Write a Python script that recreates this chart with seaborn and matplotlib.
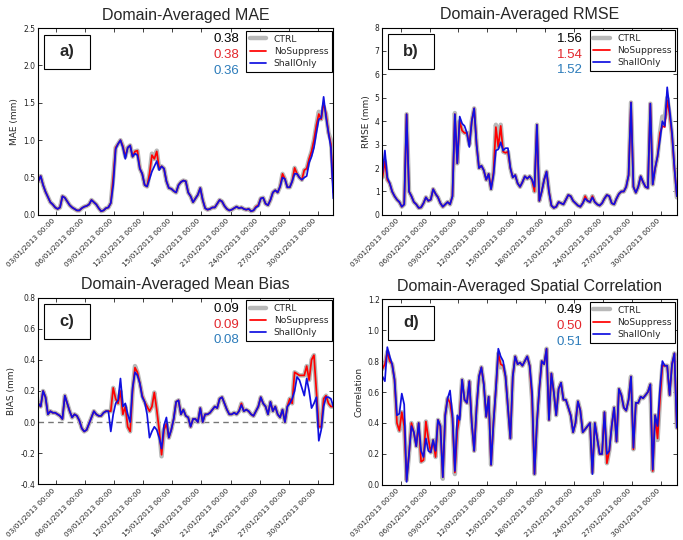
import pandas as pd
import seaborn as sns
import matplotlib.pyplot as plt
import matplotlib.dates as mdates
from matplotlib.patches import Rectangle

sns.set_style("ticks", {"xtick.direction": "in", "ytick.direction": "in"})
plt.rcParams['font.family'] = ['DejaVu Sans']

# 6-hourly times, 01/01/2013 03:00 -> 31/01/2013 15:00
times = pd.date_range('2013-01-01 03:00', periods=123, freq='6h')

mae_ctrl = [
    0.45, 0.52, 0.40, 0.31, 0.24, 0.17, 0.14, 0.10, 0.08, 0.10,
    0.25, 0.23, 0.18, 0.13, 0.10, 0.08, 0.06, 0.06, 0.09, 0.11,
    0.12, 0.14, 0.20, 0.17, 0.14, 0.09, 0.05, 0.06, 0.09, 0.10,
    0.16, 0.50, 0.90, 0.95, 1.00, 0.92, 0.78, 0.90, 0.93, 0.78,
    0.85, 0.86, 0.62, 0.55, 0.40, 0.38, 0.55, 0.82, 0.75, 0.86,
    0.62, 0.65, 0.62, 0.45, 0.36, 0.35, 0.32, 0.30, 0.40, 0.44,
    0.46, 0.45, 0.30, 0.25, 0.17, 0.22, 0.27, 0.36, 0.20, 0.09,
    0.07, 0.08, 0.10, 0.10, 0.15, 0.20, 0.18, 0.12, 0.08, 0.06,
    0.07, 0.09, 0.11, 0.09, 0.10, 0.08, 0.07, 0.08, 0.05, 0.06,
    0.11, 0.13, 0.22, 0.23, 0.15, 0.13, 0.20, 0.30, 0.33, 0.30,
    0.38, 0.55, 0.48, 0.37, 0.37, 0.45, 0.63, 0.55, 0.50, 0.47,
    0.60, 0.62, 0.75, 0.85, 1.00, 1.20, 1.38, 1.28, 1.45, 1.35,
    1.10, 1.00, 0.48]
mae_nosup = [
    0.45, 0.52, 0.40, 0.31, 0.24, 0.17, 0.14, 0.10, 0.08, 0.10,
    0.25, 0.23, 0.18, 0.13, 0.10, 0.08, 0.06, 0.06, 0.09, 0.11,
    0.12, 0.14, 0.20, 0.17, 0.14, 0.09, 0.05, 0.06, 0.09, 0.10,
    0.16, 0.50, 0.90, 0.95, 1.00, 0.92, 0.78, 0.90, 0.93, 0.78,
    0.85, 0.86, 0.62, 0.55, 0.40, 0.38, 0.55, 0.80, 0.75, 0.85,
    0.62, 0.65, 0.62, 0.45, 0.36, 0.35, 0.32, 0.30, 0.40, 0.44,
    0.46, 0.45, 0.30, 0.25, 0.17, 0.22, 0.27, 0.36, 0.20, 0.09,
    0.07, 0.08, 0.10, 0.10, 0.15, 0.20, 0.18, 0.12, 0.08, 0.06,
    0.07, 0.09, 0.11, 0.09, 0.10, 0.08, 0.07, 0.08, 0.05, 0.06,
    0.11, 0.13, 0.22, 0.23, 0.15, 0.13, 0.20, 0.30, 0.33, 0.30,
    0.38, 0.55, 0.48, 0.37, 0.37, 0.45, 0.63, 0.55, 0.50, 0.47,
    0.60, 0.62, 0.75, 0.85, 1.00, 1.20, 1.35, 1.28, 1.50, 1.35,
    1.10, 0.95, 0.30]
mae_shall = [
    0.45, 0.52, 0.40, 0.31, 0.24, 0.17, 0.14, 0.10, 0.08, 0.10,
    0.25, 0.23, 0.18, 0.13, 0.10, 0.08, 0.06, 0.06, 0.09, 0.11,
    0.12, 0.14, 0.20, 0.17, 0.14, 0.09, 0.05, 0.06, 0.09, 0.10,
    0.16, 0.40, 0.88, 0.95, 1.00, 0.90, 0.75, 0.90, 0.93, 0.78,
    0.82, 0.80, 0.62, 0.55, 0.40, 0.38, 0.48, 0.58, 0.65, 0.72,
    0.60, 0.65, 0.62, 0.45, 0.36, 0.35, 0.32, 0.30, 0.40, 0.44,
    0.46, 0.45, 0.30, 0.25, 0.17, 0.22, 0.27, 0.36, 0.20, 0.09,
    0.07, 0.08, 0.10, 0.10, 0.15, 0.20, 0.18, 0.12, 0.08, 0.06,
    0.07, 0.09, 0.11, 0.09, 0.10, 0.08, 0.07, 0.08, 0.05, 0.06,
    0.10, 0.12, 0.22, 0.23, 0.15, 0.13, 0.20, 0.30, 0.33, 0.30,
    0.38, 0.50, 0.48, 0.37, 0.37, 0.45, 0.55, 0.55, 0.50, 0.47,
    0.50, 0.52, 0.70, 0.78, 0.90, 1.10, 1.28, 1.30, 1.58, 1.30,
    1.10, 0.90, 0.22]

rmse_ctrl = [
    1.6, 2.3, 1.5, 1.35, 1.0, 0.8, 0.65, 0.55, 0.35, 0.45,
    4.3, 1.0, 0.8, 0.55, 0.45, 0.3, 0.32, 0.5, 0.75, 0.6,
    0.65, 1.1, 0.9, 0.75, 0.5, 0.35, 0.45, 0.55, 0.45, 0.8,
    4.35, 2.2, 4.0, 3.6, 3.5, 3.5, 3.0, 4.0, 4.55, 3.0,
    2.0, 2.1, 1.9, 1.5, 1.75, 1.1, 1.8, 3.85, 2.9, 3.85,
    2.7, 2.65, 2.7, 2.0, 1.6, 1.7, 1.35, 1.2, 1.4, 1.65,
    1.55, 1.65, 1.5, 1.0, 3.85, 0.6, 1.0, 1.5, 1.85, 1.0,
    0.4, 0.3, 0.35, 0.55, 0.5, 0.45, 0.65, 0.85, 0.8, 0.6,
    0.5, 0.4, 0.35, 0.5, 0.8, 0.6, 0.55, 0.8, 0.55, 0.45,
    0.4, 0.5, 0.7, 0.85, 0.8, 0.5, 0.45, 0.7, 0.9, 1.0,
    1.0, 1.2, 1.7, 4.8, 1.2, 0.95, 1.2, 1.65, 1.4, 1.2,
    1.15, 4.75, 1.3, 2.0, 2.5, 3.5, 4.2, 4.15, 5.0, 4.3,
    3.4, 2.0, 0.75]
rmse_nosup = [
    1.6, 2.3, 1.5, 1.35, 1.0, 0.8, 0.65, 0.55, 0.35, 0.45,
    4.3, 1.0, 0.8, 0.55, 0.45, 0.3, 0.32, 0.5, 0.75, 0.6,
    0.65, 1.1, 0.9, 0.75, 0.5, 0.35, 0.45, 0.55, 0.45, 0.8,
    4.3, 2.2, 4.0, 3.6, 3.5, 3.5, 3.0, 4.0, 4.55, 3.0,
    2.0, 2.1, 1.9, 1.5, 1.75, 1.1, 1.8, 3.75, 2.9, 3.8,
    2.7, 2.65, 2.7, 2.0, 1.6, 1.7, 1.35, 1.2, 1.4, 1.65,
    1.55, 1.65, 1.5, 1.0, 3.85, 0.6, 1.0, 1.5, 1.85, 1.0,
    0.4, 0.3, 0.35, 0.55, 0.5, 0.45, 0.65, 0.85, 0.8, 0.6,
    0.5, 0.4, 0.35, 0.5, 0.8, 0.6, 0.55, 0.8, 0.55, 0.45,
    0.4, 0.5, 0.7, 0.85, 0.8, 0.5, 0.45, 0.7, 0.9, 1.0,
    1.0, 1.2, 1.7, 4.8, 1.2, 0.95, 1.2, 1.65, 1.4, 1.2,
    1.15, 4.75, 1.3, 2.0, 2.5, 3.5, 3.8, 3.75, 4.9, 4.3,
    3.4, 2.0, 0.8]
rmse_shall = [
    1.8, 2.75, 1.6, 1.35, 1.0, 0.8, 0.65, 0.55, 0.35, 0.45,
    4.3, 1.0, 0.8, 0.55, 0.45, 0.3, 0.32, 0.5, 0.75, 0.6,
    0.65, 1.1, 0.9, 0.75, 0.5, 0.35, 0.45, 0.55, 0.45, 0.8,
    4.3, 2.2, 4.2, 3.9, 3.8, 3.5, 2.9, 4.0, 4.55, 3.0,
    2.0, 2.1, 1.9, 1.5, 1.75, 1.1, 1.7, 2.75, 2.8, 3.1,
    2.75, 2.85, 2.85, 2.0, 1.6, 1.7, 1.35, 1.2, 1.4, 1.65,
    1.55, 1.65, 1.5, 1.2, 3.85, 0.6, 1.0, 1.5, 1.85, 1.0,
    0.4, 0.3, 0.35, 0.55, 0.5, 0.45, 0.65, 0.85, 0.8, 0.6,
    0.5, 0.4, 0.35, 0.5, 0.7, 0.6, 0.55, 0.75, 0.55, 0.45,
    0.4, 0.5, 0.7, 0.85, 0.8, 0.5, 0.45, 0.7, 0.9, 1.0,
    1.0, 1.2, 1.7, 4.8, 1.2, 0.95, 1.2, 1.65, 1.4, 1.2,
    1.15, 4.75, 1.3, 2.0, 2.5, 3.2, 4.0, 3.8, 5.45, 4.5,
    3.5, 2.0, 0.8]

bias_ctrl = [
    0.12, 0.10, 0.20, 0.16, 0.05, 0.07, 0.06, 0.06, 0.05, 0.04,
    0.02, 0.17, 0.12, 0.07, 0.03, 0.05, 0.04, 0.01, -0.04, -0.06,
    -0.05, -0.01, 0.03, 0.07, 0.05, 0.04, 0.04, 0.06, 0.07, 0.07,
    0.07, 0.22, 0.15, 0.12, 0.20, 0.05, 0.10, -0.03, -0.06, 0.20,
    0.36, 0.32, 0.25, 0.17, 0.13, 0.10, 0.07, 0.10, 0.19, 0.08,
    -0.05, -0.22, -0.05, -0.01, -0.10, -0.05, 0.02, 0.13, 0.14, 0.05,
    0.08, 0.04, 0.03, -0.03, 0.02, 0.02, 0.00, 0.09, 0.00, 0.05,
    0.05, 0.06, 0.08, 0.10, 0.09, 0.15, 0.16, 0.12, 0.08, 0.05,
    0.05, 0.06, 0.05, 0.07, 0.12, 0.07, 0.08, 0.07, 0.05, 0.04,
    0.07, 0.10, 0.16, 0.12, 0.10, 0.05, 0.13, 0.07, 0.10, 0.05,
    0.03, 0.08, 0.00, 0.10, 0.15, 0.12, 0.32, 0.31, 0.30, 0.30,
    0.30, 0.36, 0.27, 0.40, 0.43, 0.20, -0.03, -0.03, 0.15, 0.17,
    0.12, 0.10, 0.10]
bias_nosup = [
    0.12, 0.10, 0.20, 0.16, 0.05, 0.07, 0.06, 0.06, 0.05, 0.04,
    0.02, 0.17, 0.12, 0.07, 0.03, 0.05, 0.04, 0.01, -0.04, -0.06,
    -0.05, -0.01, 0.03, 0.07, 0.05, 0.04, 0.04, 0.06, 0.07, 0.07,
    0.07, 0.22, 0.15, 0.12, 0.20, 0.05, 0.10, -0.03, -0.06, 0.20,
    0.35, 0.32, 0.25, 0.17, 0.13, 0.10, 0.07, 0.10, 0.19, 0.08,
    -0.05, -0.21, -0.05, -0.01, -0.10, -0.05, 0.02, 0.13, 0.14, 0.05,
    0.08, 0.04, 0.03, -0.03, 0.02, 0.02, 0.00, 0.09, 0.00, 0.05,
    0.05, 0.06, 0.08, 0.10, 0.09, 0.15, 0.16, 0.12, 0.08, 0.05,
    0.05, 0.06, 0.05, 0.07, 0.12, 0.07, 0.08, 0.07, 0.05, 0.04,
    0.07, 0.10, 0.16, 0.12, 0.10, 0.05, 0.13, 0.07, 0.10, 0.05,
    0.03, 0.08, 0.00, 0.10, 0.15, 0.12, 0.32, 0.31, 0.30, 0.30,
    0.30, 0.36, 0.27, 0.40, 0.43, 0.20, -0.03, -0.03, 0.15, 0.17,
    0.12, 0.10, 0.10]
bias_shall = [
    0.12, 0.10, 0.20, 0.16, 0.05, 0.07, 0.06, 0.06, 0.05, 0.04,
    0.02, 0.17, 0.12, 0.07, 0.03, 0.05, 0.04, 0.01, -0.04, -0.06,
    -0.05, -0.01, 0.03, 0.07, 0.05, 0.04, 0.04, 0.06, 0.07, 0.07,
    -0.06, 0.05, 0.12, 0.14, 0.28, 0.10, 0.12, 0.05, 0.00, 0.22,
    0.32, 0.30, 0.25, 0.16, 0.13, 0.05, -0.10, -0.06, -0.03, -0.05,
    -0.10, -0.17, -0.02, 0.03, -0.10, -0.05, 0.02, 0.13, 0.14, 0.05,
    0.08, 0.04, 0.03, -0.03, 0.02, 0.02, 0.00, 0.09, 0.00, 0.05,
    0.05, 0.06, 0.08, 0.10, 0.09, 0.15, 0.16, 0.12, 0.08, 0.05,
    0.05, 0.06, 0.05, 0.07, 0.11, 0.07, 0.08, 0.07, 0.05, 0.04,
    0.07, 0.10, 0.16, 0.12, 0.10, 0.05, 0.13, 0.07, 0.10, 0.05,
    0.03, 0.08, 0.00, 0.10, 0.12, 0.15, 0.20, 0.29, 0.27, 0.22,
    0.17, 0.28, 0.20, 0.09, 0.12, 0.16, -0.12, -0.05, 0.10, 0.16,
    0.16, 0.15, 0.10]

corr_ctrl = [
    0.75, 0.78, 0.86, 0.80, 0.78, 0.68, 0.40, 0.35, 0.47, 0.38,
    0.03, 0.20, 0.40, 0.34, 0.25, 0.40, 0.15, 0.16, 0.41, 0.30,
    0.21, 0.29, 0.18, 0.42, 0.38, 0.04, 0.45, 0.56, 0.53, 0.43,
    0.07, 0.35, 0.45, 0.68, 0.55, 0.53, 0.67, 0.40, 0.22, 0.50,
    0.70, 0.76, 0.65, 0.44, 0.57, 0.13, 0.40, 0.62, 0.85, 0.76,
    0.77, 0.70, 0.50, 0.30, 0.70, 0.83, 0.78, 0.79, 0.77, 0.80,
    0.83, 0.77, 0.55, 0.07, 0.40, 0.62, 0.80, 0.78, 0.88, 0.42,
    0.72, 0.60, 0.45, 0.62, 0.66, 0.55, 0.55, 0.50, 0.45, 0.34,
    0.40, 0.54, 0.48, 0.34, 0.36, 0.38, 0.40, 0.08, 0.40, 0.30,
    0.20, 0.20, 0.47, 0.14, 0.22, 0.38, 0.50, 0.28, 0.62, 0.58,
    0.50, 0.48, 0.55, 0.70, 0.23, 0.53, 0.53, 0.57, 0.56, 0.58,
    0.60, 0.65, 0.09, 0.45, 0.29, 0.55, 0.77, 0.77, 0.77, 0.58,
    0.78, 0.85, 0.37]
corr_nosup = [
    0.75, 0.78, 0.86, 0.80, 0.78, 0.68, 0.40, 0.35, 0.47, 0.38,
    0.03, 0.20, 0.40, 0.34, 0.25, 0.40, 0.15, 0.16, 0.41, 0.30,
    0.21, 0.29, 0.18, 0.42, 0.38, 0.05, 0.45, 0.56, 0.53, 0.43,
    0.08, 0.35, 0.45, 0.68, 0.55, 0.53, 0.67, 0.40, 0.22, 0.50,
    0.70, 0.76, 0.65, 0.44, 0.57, 0.13, 0.40, 0.62, 0.85, 0.78,
    0.77, 0.70, 0.50, 0.30, 0.70, 0.83, 0.78, 0.79, 0.77, 0.80,
    0.83, 0.77, 0.55, 0.07, 0.40, 0.62, 0.80, 0.78, 0.88, 0.42,
    0.72, 0.60, 0.45, 0.62, 0.66, 0.55, 0.55, 0.50, 0.45, 0.34,
    0.40, 0.54, 0.48, 0.34, 0.36, 0.38, 0.40, 0.08, 0.40, 0.30,
    0.20, 0.20, 0.47, 0.14, 0.22, 0.38, 0.50, 0.28, 0.62, 0.58,
    0.50, 0.48, 0.55, 0.70, 0.23, 0.53, 0.53, 0.57, 0.56, 0.58,
    0.60, 0.65, 0.09, 0.45, 0.30, 0.55, 0.77, 0.77, 0.77, 0.58,
    0.78, 0.85, 0.37]
corr_shall = [
    0.70, 0.67, 0.89, 0.83, 0.78, 0.68, 0.45, 0.46, 0.59, 0.52,
    0.02, 0.20, 0.38, 0.34, 0.25, 0.40, 0.22, 0.18, 0.30, 0.22,
    0.21, 0.29, 0.22, 0.42, 0.38, 0.05, 0.45, 0.56, 0.61, 0.45,
    0.09, 0.45, 0.42, 0.68, 0.55, 0.53, 0.67, 0.40, 0.22, 0.50,
    0.70, 0.76, 0.65, 0.44, 0.57, 0.13, 0.40, 0.62, 0.88, 0.83,
    0.80, 0.70, 0.50, 0.30, 0.70, 0.83, 0.78, 0.79, 0.77, 0.80,
    0.83, 0.77, 0.60, 0.07, 0.40, 0.62, 0.80, 0.78, 0.88, 0.42,
    0.72, 0.60, 0.45, 0.62, 0.66, 0.55, 0.55, 0.50, 0.45, 0.34,
    0.40, 0.54, 0.48, 0.34, 0.36, 0.38, 0.40, 0.07, 0.40, 0.30,
    0.20, 0.20, 0.47, 0.20, 0.22, 0.38, 0.50, 0.28, 0.62, 0.58,
    0.50, 0.48, 0.55, 0.70, 0.24, 0.53, 0.53, 0.57, 0.56, 0.58,
    0.60, 0.65, 0.10, 0.45, 0.38, 0.62, 0.80, 0.77, 0.77, 0.58,
    0.78, 0.85, 0.37]

titles = ['Domain-Averaged MAE', 'Domain-Averaged RMSE',
          'Domain-Averaged Mean Bias', 'Domain-Averaged Spatial Correlation']
ylabels = ['MAE (mm)', 'RMSE (mm)', 'BIAS (mm)', 'Correlation']
panel_tags = ['a)', 'b)', 'c)', 'd)']
scores = [['0.38', '0.38', '0.36'], ['1.56', '1.54', '1.52'],
          ['0.09', '0.09', '0.08'], ['0.49', '0.50', '0.51']]
ylims = [(0, 2.5), (0, 8), (-0.4, 0.8), (0, 1.2)]
yticks = [[0, 0.5, 1.0, 1.5, 2.0, 2.5], list(range(9)),
          [-0.4, -0.2, 0.0, 0.2, 0.4, 0.6, 0.8], [0, 0.2, 0.4, 0.6, 0.8, 1.0, 1.2]]
yfmt = ['%.1f', '%d', '%.1f', '%.1f']
data = [(mae_ctrl, mae_nosup, mae_shall), (rmse_ctrl, rmse_nosup, rmse_shall),
        (bias_ctrl, bias_nosup, bias_shall), (corr_ctrl, corr_nosup, corr_shall)]
names = ['CTRL', 'NoSuppress', 'ShallOnly']
score_colors = ['black', '#e3262c', '#2b7bba']

fig = plt.figure(figsize=(6.83, 5.4), dpi=100)
boxes = [[0.056, 0.602, 0.432, 0.346], [0.560, 0.602, 0.431, 0.347],
         [0.056, 0.103, 0.432, 0.346], [0.560, 0.102, 0.431, 0.344]]

for k in range(4):
    ax = fig.add_axes(boxes[k])
    ctrl, nosup, shall = data[k]
    sns.lineplot(x=times, y=ctrl, ax=ax, color='#b8b8b8', lw=3.2, label=names[0])
    sns.lineplot(x=times, y=nosup, ax=ax, color='#ff0000', lw=1.25, label=names[1])
    sns.lineplot(x=times, y=shall, ax=ax, color='#1010e0', lw=1.25, label=names[2])
    if k == 2:
        ax.axhline(0, color='#777777', lw=1, ls=(0, (4, 3)), zorder=1)

    ax.set_xlim(times[0], times[-1])
    ax.set_ylim(*ylims[k])
    ax.set_yticks(yticks[k])
    ax.yaxis.set_major_formatter(plt.FormatStrFormatter(yfmt[k]))
    ax.xaxis.set_major_locator(mdates.DayLocator(bymonthday=[3, 6, 9, 12, 15, 18, 21, 24, 27, 30]))
    ax.xaxis.set_major_formatter(mdates.DateFormatter('%d/%m/%Y %H:%M'))
    ax.tick_params(labelsize=5.5, length=3, width=0.6, direction='in',
                   top=True, right=True, pad=2, colors='#222222')
    ax.tick_params(axis='x', labelsize=5.2)
    for lab in ax.get_xticklabels():
        lab.set_rotation(45)
        lab.set_ha('right')
    for sp in ax.spines.values():
        sp.set_color('black')
        sp.set_linewidth(0.8)
    ax.set_xlabel('')
    ax.set_ylabel(ylabels[k], fontsize=6.5, labelpad=3)
    ax.set_title(titles[k], fontsize=11.5, family='Liberation Sans', pad=6)

    # panel tag in a framed box
    ax.add_patch(Rectangle((0.02, 0.78), 0.155, 0.185, transform=ax.transAxes,
                           fc='white', ec='black', lw=0.8, zorder=5))
    ax.text(0.0975, 0.872, panel_tags[k], transform=ax.transAxes, fontsize=12,
            fontweight='bold', family='Liberation Sans', ha='center', va='center',
            zorder=6)
    for j in range(3):
        ax.text(0.68, [0.94, 0.855, 0.772][j], scores[k][j], transform=ax.transAxes,
                fontsize=9.5, family='Liberation Sans', color=score_colors[j],
                ha='right', va='center')
    leg = ax.legend(loc='upper right', bbox_to_anchor=(0.995, 0.985), borderaxespad=0,
                    fontsize=6.6, handlelength=1.8, handletextpad=0.8, labelspacing=0.35,
                    fancybox=False, framealpha=1, edgecolor='black')
    leg.get_frame().set_linewidth(0.8)

fig.savefig('out.png', dpi=100)
